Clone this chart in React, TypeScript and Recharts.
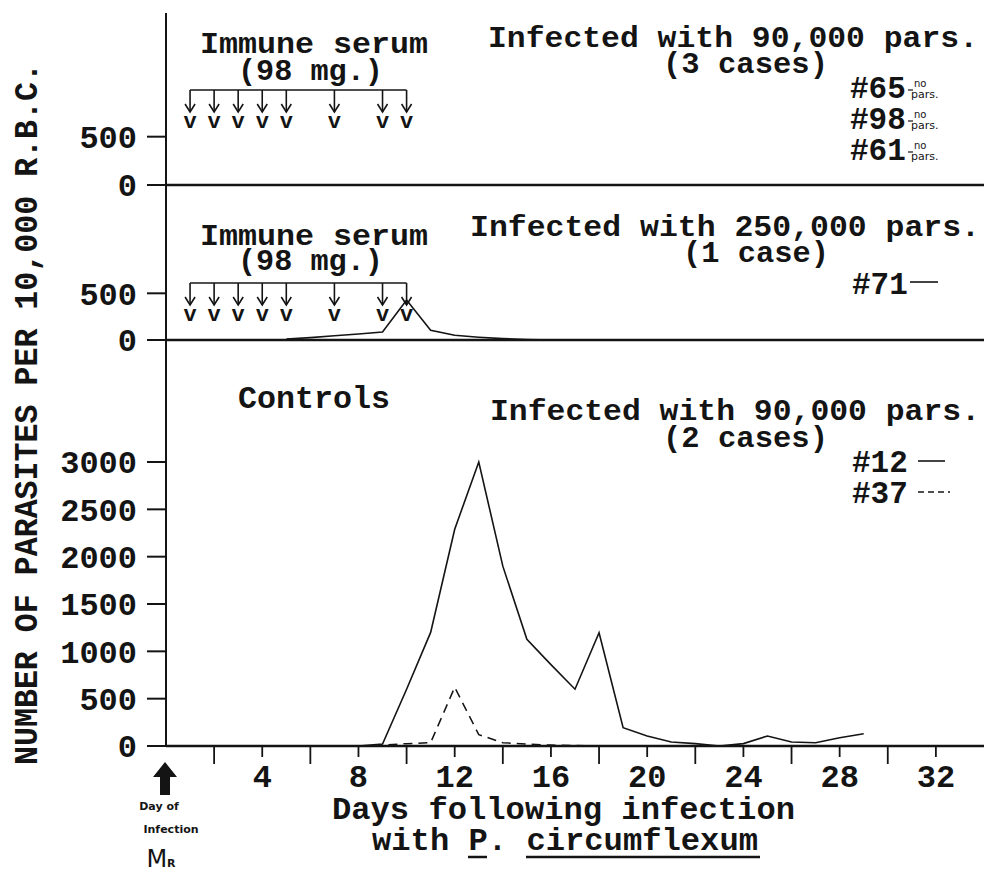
import React from 'react';
import { ComposedChart, Line, XAxis, YAxis, ReferenceLine, ReferenceDot } from 'recharts';

// ---------------- data ----------------
const xTicks = [0, 2, 4, 6, 8, 10, 12, 14, 16, 18, 20, 22, 24, 26, 28, 30, 32];
const topYTicks = [0, 500];
const midYTicks = [0, 500];
const botYTicks = [0, 500, 1000, 1500, 2000, 2500, 3000];

// days on which immune serum was injected
const serumDays = [1, 2, 3, 4, 5, 7, 9, 10];

// #71 (250,000 pars., immune serum)
const case71Days = [5, 6, 7, 8, 9, 10, 11, 12, 13, 14, 15, 16];
const case71 = [10, 25, 45, 65, 85, 428, 105, 50, 30, 15, 5, 0];

// Controls #12 (solid)
const case12Days = [8, 9, 10, 11, 12, 13, 14, 15, 16, 17, 18, 19, 20, 21, 22, 23, 24, 25, 26, 27, 28, 29];
const case12 = [0, 20, 600, 1200, 2290, 3000, 1900, 1127, 860, 600, 1197, 194, 106, 42, 25, 0, 25, 106, 42, 35, 88, 130];

// Controls #37 (dashed)
const case37Days = [8, 9, 10, 11, 12, 13, 14, 15, 16, 17, 18];
const case37 = [0, 10, 25, 35, 620, 120, 35, 20, 10, 5, 0];

// ---------------- styling ----------------
const FONT = '"Liberation Mono", "DejaVu Sans Mono", monospace';
const HAND = '"DejaVu Sans", "Noto Sans", sans-serif';
const INK = '#141414';
const W = 984;
const YAXIS_W = 166;
const PAD = 4;
const PAD_B = 22;
const X_DOMAIN: [number, number] = [0, 34];

// panel geometry (plot top / bottom in page px) and y max of each panel
const TOP = { top: 13, bottom: 185, yMax: 1780, serumLevel: 983 };
const MID = { top: 185, bottom: 340, yMax: 1660, serumLevel: 610 };
const BOT = { top: 340, bottom: 746, yMax: 4289 };
const X_AXIS_H = 873 - 746;

const rows = (days: number[], vals: number[]) => days.map((d, i) => ({ day: d, v: vals[i] }));
const rows71 = rows(case71Days, case71);
const rows12 = rows(case12Days, case12);
const rows37 = rows(case37Days, case37);
const serumRowsTop = serumDays.map((d) => ({ day: d, level: TOP.serumLevel }));

const yTickStyle = { fontFamily: FONT, fontSize: 32, fontWeight: 700, fill: INK };

const SerumMark = (p: any) => {
  const { cx, cy } = p;
  if (cx == null || cy == null) return null;
  return (
    <g>
      <line x1={cx} y1={cy} x2={cx} y2={cy + 22} stroke={INK} strokeWidth={1.6} />
      <path d={`M${cx - 5},${cy + 14} L${cx},${cy + 22} L${cx + 5},${cy + 14}`} fill="none" stroke={INK} strokeWidth={1.6} />
      <text x={cx} y={cy + 38} textAnchor="middle" fontFamily={FONT} fontWeight={700} fontSize={22} fill={INK}>v</text>
    </g>
  );
};

const XTick = (props: any) => {
  const { x, y, payload } = props;
  const v = payload.value;
  if (v === 0) {
    return (
      <g>
        <path
          d={`M${x - 1},${y + 16} L${x + 11},${y + 31} L${x + 4},${y + 31} L${x + 4},${y + 49} L${x - 6},${y + 49} L${x - 6},${y + 31} L${x - 13},${y + 31} Z`}
          fill={INK}
        />
        <text x={x - 7} y={y + 64} textAnchor="middle" fontFamily={HAND} fontSize={11} fontWeight={700} fill={INK}>Day of</text>
        <text x={x + 5} y={y + 87} textAnchor="middle" fontFamily={HAND} fontSize={11} fontWeight={700} fill={INK}>Infection</text>
        <text x={x - 5} y={y + 121} textAnchor="middle" fontFamily={HAND} fontSize={24} fill={INK}>
          M<tspan fontSize={11} fontWeight={700}>R</tspan>
        </text>
      </g>
    );
  }
  const major = v % 4 === 0;
  return (
    <g>
      <line x1={x} y1={y} x2={x} y2={y + (major ? 11 : 18)} stroke={INK} strokeWidth={1.8} />
      {major && (
        <text x={x} y={y + 41} textAnchor="middle" fontFamily={FONT} fontWeight={700} fontSize={32} fill={INK}>{v}</text>
      )}
    </g>
  );
};

const T = (p: any) => {
  const { x, y, children, size = 31, anchor = 'start', len, weight = 700, family = FONT, ...rest } = p;
  return (
    <text
      x={x}
      y={y}
      fontSize={size}
      fontFamily={family}
      fontWeight={weight}
      textAnchor={anchor}
      fill={INK}
      textLength={len}
      lengthAdjust={len ? 'spacingAndGlyphs' : undefined}
      {...rest}
    >
      {children}
    </text>
  );
};

const NoPars = ({ x, y }: { x: number; y: number }) => (
  <g>
    <line x1={x} y1={y - 8} x2={x + 5} y2={y - 8} stroke={INK} strokeWidth={1.2} />
    <T x={x + 6} y={y - 11} size={10} family={HAND} weight={400}>no</T>
    <T x={x + 3} y={y} size={11} family={HAND} weight={400}>pars.</T>
  </g>
);

const yAxisCommon = {
  type: 'number' as const,
  width: YAXIS_W,
  tickSize: 19,
  tickMargin: 10,
  interval: 0 as const,
  allowDataOverflow: true,
  axisLine: { stroke: INK, strokeWidth: 2 },
  tickLine: { stroke: INK, strokeWidth: 2 },
  tick: yTickStyle,
};

export default function App() {
  const topH = TOP.bottom - TOP.top + PAD + PAD_B;
  const midH = MID.bottom - MID.top + PAD + PAD_B;
  const botH = BOT.bottom - BOT.top + PAD + X_AXIS_H;
  const margin = { top: PAD, right: 0, left: 0, bottom: PAD_B };

  return (
    <div style={{ position: 'absolute', left: 0, top: 0, width: W, height: 873, background: '#fff', overflow: 'hidden' }}>
      {/* bottom panel: controls */}
      <div style={{ position: 'absolute', left: 0, top: BOT.top - PAD, width: W, height: botH }}>
        <ComposedChart width={W} height={botH} margin={{ top: PAD, right: 0, left: 0, bottom: 0 }}>
          <XAxis
            type="number"
            dataKey="day"
            domain={X_DOMAIN}
            ticks={xTicks}
            interval={0}
            allowDataOverflow
            height={X_AXIS_H}
            tickSize={0}
            tickMargin={0}
            tickLine={false}
            axisLine={{ stroke: INK, strokeWidth: 2.5 }}
            tick={XTick}
          />
          <YAxis {...yAxisCommon} domain={[0, BOT.yMax]} ticks={botYTicks} />
          <Line data={rows12} dataKey="v" type="linear" stroke={INK} strokeWidth={1.6} dot={false} isAnimationActive={false} />
          <Line data={rows37} dataKey="v" type="linear" stroke={INK} strokeWidth={1.5} strokeDasharray="9 6" dot={false} isAnimationActive={false} />
        </ComposedChart>
      </div>

      {/* middle panel: immune serum, 250,000 pars. */}
      <div style={{ position: 'absolute', left: 0, top: MID.top - PAD, width: W, height: midH }}>
        <ComposedChart width={W} height={midH} margin={margin}>
          <XAxis type="number" dataKey="day" domain={X_DOMAIN} hide allowDataOverflow />
          <YAxis {...yAxisCommon} domain={[0, MID.yMax]} ticks={midYTicks} />
          <ReferenceLine y={0} stroke={INK} strokeWidth={2.5} />
          <ReferenceLine
            segment={[{ x: serumDays[0], y: MID.serumLevel }, { x: serumDays[serumDays.length - 1], y: MID.serumLevel }]}
            stroke={INK}
            strokeWidth={1.6}
          />
          {serumDays.map((d) => (
            <ReferenceDot key={d} x={d} y={MID.serumLevel} r={1} shape={SerumMark} />
          ))}
          <Line data={rows71} dataKey="v" type="linear" stroke={INK} strokeWidth={1.6} dot={false} isAnimationActive={false} />
        </ComposedChart>
      </div>

      {/* top panel: immune serum, 90,000 pars. */}
      <div style={{ position: 'absolute', left: 0, top: TOP.top - PAD, width: W, height: topH }}>
        <ComposedChart width={W} height={topH} margin={margin} data={serumRowsTop}>
          <XAxis type="number" dataKey="day" domain={X_DOMAIN} hide allowDataOverflow />
          <YAxis {...yAxisCommon} domain={[0, TOP.yMax]} ticks={topYTicks} />
          <ReferenceLine y={0} stroke={INK} strokeWidth={2.5} />
          <ReferenceLine
            segment={[{ x: serumDays[0], y: TOP.serumLevel }, { x: serumDays[serumDays.length - 1], y: TOP.serumLevel }]}
            stroke={INK}
            strokeWidth={1.6}
          />
          {serumDays.map((d) => (
            <ReferenceDot key={d} x={d} y={TOP.serumLevel} r={1} shape={SerumMark} />
          ))}
        </ComposedChart>
      </div>

      {/* annotations */}
      <svg width={W} height={873} style={{ position: 'absolute', left: 0, top: 0, pointerEvents: 'none' }}>
        <T x={37} y={414} size={34} anchor="middle" len={702} transform="rotate(-90 37 414)">
          NUMBER OF PARASITES PER 10,000 R.B.C.
        </T>

        {/* top panel */}
        <T x={200} y={53} len={228} size={30}>Immune serum</T>
        <T x={238} y={80} len={145} size={30}>(98 mg.)</T>
        <T x={488} y={47} len={490} size={30}>Infected with 90,000 pars.</T>
        <T x={663} y={73} len={165} size={30}>(3 cases)</T>
        <T x={850} y={98}>#65</T>
        <NoPars x={908} y={98} />
        <T x={850} y={129}>#98</T>
        <NoPars x={908} y={129} />
        <T x={850} y={160}>#61</T>
        <NoPars x={908} y={160} />

        {/* middle panel */}
        <T x={200} y={245} len={228} size={30}>Immune serum</T>
        <T x={238} y={270} len={145} size={30}>(98 mg.)</T>
        <T x={470} y={236} len={510} size={30}>Infected with 250,000 pars.</T>
        <T x={683} y={262} len={146} size={30}>(1 case)</T>
        <T x={852} y={294}>#71</T>
        <line x1={910} y1={282} x2={938} y2={282} stroke={INK} strokeWidth={1.6} />

        {/* bottom panel */}
        <T x={238} y={408} len={152}>Controls</T>
        <T x={490} y={420} len={490} size={30}>Infected with 90,000 pars.</T>
        <T x={663} y={447} len={165} size={30}>(2 cases)</T>
        <T x={852} y={472}>#12</T>
        <line x1={918} y1={461} x2={945} y2={461} stroke={INK} strokeWidth={1.6} />
        <T x={852} y={503}>#37</T>
        <line x1={918} y1={492} x2={950} y2={492} stroke={INK} strokeWidth={1.6} strokeDasharray="6 4" />

        {/* x-axis title */}
        <T x={332} y={819} len={463}>Days following infection</T>
        <T x={372} y={850} len={386}>with P. circumflexum</T>
        <line x1={468} y1={857} x2={487} y2={857} stroke={INK} strokeWidth={2.5} />
        <line x1={526} y1={857} x2={760} y2={857} stroke={INK} strokeWidth={2.5} />
      </svg>
    </div>
  );
}
